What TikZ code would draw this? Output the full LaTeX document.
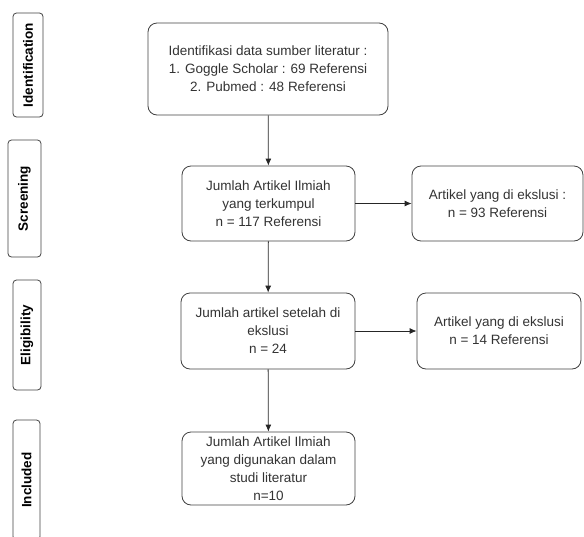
\documentclass[tikz,border=0pt]{standalone}
\usepackage{fontspec}
\setmainfont{Liberation Sans}
\usetikzlibrary{arrows.meta}

\tikzset{
  box/.style={draw=black!75, rounded corners=9pt, align=center, inner sep=2pt,
    font=\fontsize{13.5}{18}\selectfont, text=black!80},
  phase/.style={draw=black!75, rounded corners=3.5pt, rotate=90, align=center,
    font=\fontsize{13.5}{16}\selectfont\bfseries, inner sep=0pt},
  arr/.style={-{Latex[length=7pt,width=6pt]}, draw=black!85, line width=0.8pt}
}

\begin{document}
\begin{tikzpicture}[x=1pt, y=-1pt, line width=0.8pt]
\useasboundingbox (0, 0) rectangle (584, 536);

\node[phase, minimum width=104, minimum height=30] (ident) at (28, 65) {Identification};
\node[phase, minimum width=117, minimum height=33] (screen) at (24.5, 198.5) {Screening};
\node[phase, minimum width=110, minimum height=28] (elig) at (27, 335) {Eligibility};
\node[phase, minimum width=120, minimum height=27] (incl) at (26.5, 480) {Included};

\node[box, minimum width=240, minimum height=92] (sumber) at (268, 69)
  {Identifikasi data sumber literatur :\\1. Goggle Scholar : 69 Referensi\\2. Pubmed : 48 Referensi};
\node[box, minimum width=173, minimum height=75] (kumpul) at (268.5, 203.5)
  {Jumlah Artikel Ilmiah\\yang terkumpul\\n = 117 Referensi};
\node[box, minimum width=171, minimum height=75] (eks1) at (497.5, 203.5)
  {Artikel yang di ekslusi :\\n = 93 Referensi};
\node[box, minimum width=174, minimum height=76] (setelah) at (268, 331)
  {Jumlah artikel setelah di\\ekslusi\\n = 24};
\node[box, minimum width=164, minimum height=76] (eks2) at (499, 331)
  {Artikel yang di ekslusi\\n = 14 Referensi};
\node[box, minimum width=173, minimum height=73] (guna) at (268.5, 468.5)
  {Jumlah Artikel Ilmiah\\yang digunakan dalam\\studi literatur\\n=10};

\draw[arr] (sumber) -- (kumpul);
\draw[arr] (kumpul) -- (setelah);
\draw[arr] (setelah) -- (guna);
\draw[arr] (kumpul) -- (eks1);
\draw[arr] (setelah) -- (eks2);
\end{tikzpicture}
\end{document}
